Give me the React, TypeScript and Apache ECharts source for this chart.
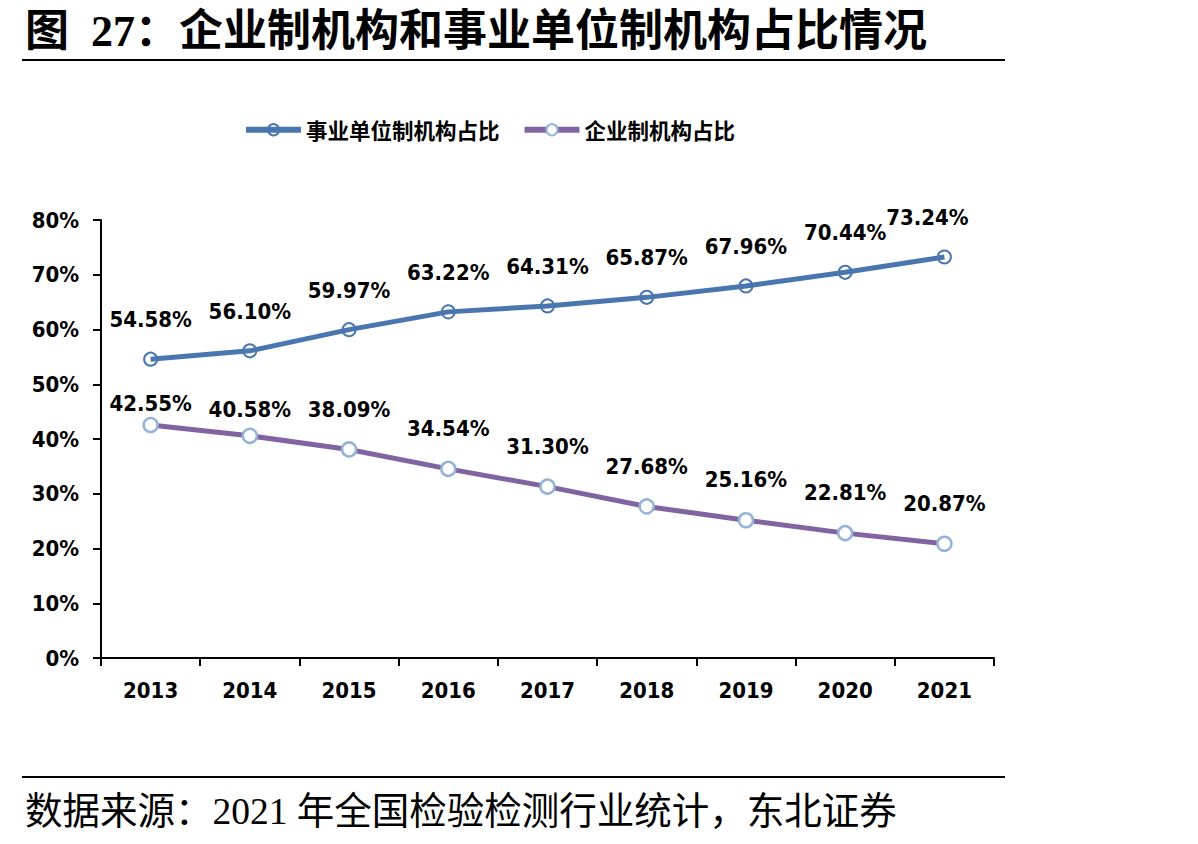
import React, { useEffect, useRef } from "react";
import * as echarts from "echarts";

// Years on the category axis
const years = ["2013", "2014", "2015", "2016", "2017", "2018", "2019", "2020", "2021"];

// Share of public-institution (事业单位制) organisations, %
const publicShare = [54.58, 56.1, 59.97, 63.22, 64.31, 65.87, 67.96, 70.44, 73.24];

// Share of enterprise (企业制) organisations, %
const enterpriseShare = [42.55, 40.58, 38.09, 34.54, 31.3, 27.68, 25.16, 22.81, 20.87];

// Y axis ticks
const yMin = 0;
const yMax = 80;
const yStep = 10;

const seriesNames = ["事业单位制机构占比", "企业制机构占比"];

const titleText = "图  27：企业制机构和事业单位制机构占比情况";
const sourceText = "数据来源：2021 年全国检验检测行业统计，东北证券";

const BLUE = "#4a76b0";
const PURPLE = "#8064a2";
const RING = "#95b3d7";
const LATIN = "DejaVu Sans Condensed, DejaVu Sans, Noto Sans CJK SC, sans-serif";
const CJK_BOLD = "Noto Sans CJK SC, DejaVu Sans, sans-serif";
const SERIF = "Liberation Serif, Noto Sans CJK SC, serif";

const pct = (p: any) => Number(p.value).toFixed(2) + "%";

export default function App() {
  const ref = useRef<HTMLDivElement>(null);

  useEffect(() => {
    document.body.style.margin = "0";
    if (!ref.current) return;
    const chart = echarts.init(ref.current, null, { renderer: "svg" });

    const labelBase = {
      show: true,
      position: "top",
      distance: 21,
      fontFamily: LATIN,
      fontWeight: "bold",
      fontSize: 22,
      color: "#000",
      formatter: pct,
    };

    // The last public label is nudged left to stay inside the plot
    const publicData = publicShare.map((v, i) =>
      i === publicShare.length - 1 ? { value: v, label: { offset: [-17, 0] } } : v
    );
    // The first two enterprise labels sit closer to their points to clear the upper line
    const enterpriseData = enterpriseShare.map((v, i) =>
      i === 0 ? { value: v, label: { distance: 2 } } : i === 1 ? { value: v, label: { distance: 7 } } : v
    );

    chart.setOption({
      animation: false,
      backgroundColor: "#fff",
      grid: { left: 101, right: 204, top: 220, bottom: 186, containLabel: false },
      legend: {
        left: 238,
        top: 114,
        itemWidth: 55,
        itemHeight: 14,
        itemGap: 22,
        lineStyle: { width: 6 },
        textStyle: { fontFamily: CJK_BOLD, fontWeight: "bold", fontSize: 21.5, color: "#000" },
        data: seriesNames,
      },
      xAxis: {
        type: "category",
        data: years,
        boundaryGap: true,
        axisLine: { lineStyle: { color: "#000", width: 2 } },
        axisTick: { show: true, length: 8, lineStyle: { color: "#000", width: 2 } },
        axisLabel: { margin: 21, fontFamily: LATIN, fontWeight: "bold", fontSize: 22, color: "#000" },
        splitLine: { show: false },
      },
      yAxis: {
        type: "value",
        min: yMin,
        max: yMax,
        interval: yStep,
        axisLine: { show: true, lineStyle: { color: "#000", width: 2 } },
        axisTick: { show: true, length: 8, lineStyle: { color: "#000", width: 2 } },
        axisLabel: {
          margin: 22,
          fontFamily: LATIN,
          fontWeight: "bold",
          fontSize: 22,
          color: "#000",
          formatter: "{value}%",
        },
        splitLine: { show: false },
      },
      series: [
        {
          name: seriesNames[0],
          type: "line",
          data: publicData,
          symbol: "circle",
          symbolSize: 13,
          lineStyle: { color: BLUE, width: 5 },
          itemStyle: { color: "rgba(255,255,255,0)", borderColor: BLUE, borderWidth: 2 },
          label: labelBase,
          z: 3,
        },
        {
          name: seriesNames[1],
          type: "line",
          data: enterpriseData,
          symbol: "circle",
          symbolSize: 14,
          lineStyle: { color: PURPLE, width: 5 },
          itemStyle: { color: "#fff", borderColor: RING, borderWidth: 2.5 },
          label: labelBase,
          z: 2,
        },
      ],
      graphic: [
        {
          type: "text",
          x: 25,
          y: 31,
          style: {
            text: titleText,
            fontFamily: SERIF,
            fontWeight: "bold",
            fontSize: 44,
            fill: "#000",
            verticalAlign: "middle",
          },
        },
        {
          type: "line",
          shape: { x1: 22, y1: 60, x2: 1005, y2: 60 },
          style: { stroke: "#000", lineWidth: 2 },
        },
        {
          type: "line",
          shape: { x1: 22, y1: 777, x2: 1005, y2: 777 },
          style: { stroke: "#000", lineWidth: 2 },
        },
        {
          type: "text",
          x: 25,
          y: 811,
          style: {
            text: sourceText,
            fontFamily: SERIF,
            fontSize: 37.5,
            fill: "#000",
            verticalAlign: "middle",
          },
        },
      ],
    });

    return () => chart.dispose();
  }, []);

  return <div ref={ref} style={{ width: 1198, height: 844 }} />;
}
